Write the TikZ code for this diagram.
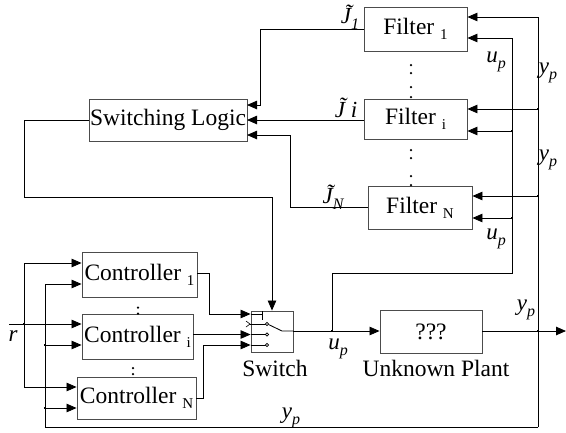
\documentclass[tikz,border=0pt]{standalone}
\usepackage{fontspec}
\setmainfont{Liberation Serif}
\usetikzlibrary{arrows.meta,calc}
\newcommand\sbs[1]{\raisebox{-0.22em}{\fontsize{15}{15}\selectfont #1}}
\newcommand\var[2]{{\itshape #1}\raisebox{-0.25em}{\fontsize{16}{16}\selectfont\itshape #2}}
\begin{document}
\begin{tikzpicture}[x=1pt,y=-1pt,
  blk/.style={draw=black!70,line width=0.9pt,rectangle,inner sep=0pt,font=\fontsize{23.5}{25}\selectfont},
  ln/.style={line width=0.85pt},
  arr/.style={ln,-{Triangle[length=10pt,width=8.5pt]}},
  lab/.style={font=\fontsize{23}{25}\selectfont,inner sep=0pt},
  jd/.style={fill,inner sep=0pt,minimum size=2.8pt},
  dt/.style={fill,circle,inner sep=0pt,minimum size=2.5pt}]
\useasboundingbox (0,0) rectangle (566,432);
% blocks
\node[blk,minimum width=158pt,minimum height=42pt] (SL) at (168,120) {Switching Logic};
\node[blk,minimum width=103pt,minimum height=44pt] (F1) at (415.5,29) {Filter \sbs{1}};
\node[blk,minimum width=103pt,minimum height=40pt] (Fi) at (415.5,119) {Filter \sbs{i}};
\node[blk,minimum width=104pt,minimum height=43pt] (FN) at (420,207.5) {Filter \sbs{N}};
\node[blk,minimum width=115pt,minimum height=45pt] (C1) at (139.5,274.5) {Controller \sbs{1}};
\node[blk,minimum width=111pt,minimum height=45pt] (Ci) at (137.5,336.5) {Controller \sbs{i}};
\node[blk,minimum width=119pt,minimum height=42pt] (CN) at (136.5,398) {Controller \sbs{N}};
\node[blk,minimum width=42pt,minimum height=41pt] (SW) at (272,331.5) {};
\node[blk,minimum width=102pt,minimum height=43pt] (PL) at (431,331.5) {???};
\node[lab,font=\fontsize{23.5}{25}\selectfont] (swl) at (275,368) {Switch};
\node[lab,font=\fontsize{23.5}{25}\selectfont] (pll) at (436,368) {Unknown Plant};
% coordinates
\coordinate (sl1) at (247,105);
\coordinate (sl2) at (247,120);
\coordinate (sl3) at (247,135);
\coordinate (ypTop) at (538,17);
\coordinate (ypBot) at (538,427);
\coordinate (ypL) at (45,427);
\coordinate (upTop) at (512,38);
\coordinate (upJ) at (332,331);
\coordinate (rin) at (9,324);
\coordinate (rJ) at (24,324);
\coordinate (out) at (566,331);
\coordinate (yJ) at (538,331);
% filters to switching logic
\draw[arr] (F1.west) -| (260,105) -- (sl1);
\draw[arr] (Fi.west |- sl2) -- (sl2);
\draw[arr] (FN.west) -| (290,135) -- (sl3);
% switching logic to switch
\draw[arr] (SL.west) -| (24,197) -| (SW.north);
% y_p feedback
\draw[ln] (ypBot) -- (ypTop);
\draw[arr] (ypTop) -- (F1.east |- ypTop);
\draw[arr] (538,109) -- (Fi.east |- 0,109);
\draw[arr] (538,196) -- (FN.east |- 0,196);
\node[jd] (j1) at (538,109) {};
\node[jd] (j2) at (538,196) {};
\draw[ln] (ypBot) -- (ypL) -- (45,284);
\draw[arr] (45,284) -- (C1.west |- 0,284);
\draw[arr] (45,345) -- (Ci.west |- 0,345);
\draw[arr] (45,408) -- (CN.west |- 0,408);
\node[jd] (j3) at (45,345) {};
\node[jd] (j4) at (45,408) {};
% u_p feedback
\draw[ln] (upJ) -- (332,273) -- (512,273) -- (upTop);
\draw[arr] (upTop) -- (F1.east |- upTop);
\draw[arr] (512,131) -- (Fi.east |- 0,131);
\draw[arr] (512,218) -- (FN.east |- 0,218);
\node[jd] (j5) at (512,131) {};
\node[jd] (j6) at (512,218) {};
% reference r
\draw[arr] (rin) -- (Ci.west |- rin);
\draw[ln] (24,263) -- (24,387);
\draw[arr] (24,263) -- (C1.west |- 0,263);
\draw[arr] (24,387) -- (CN.west |- 0,387);
\node[jd] (j7) at (rJ) {};
% controllers to switch
\draw[arr] (C1.east |- 0,273) -- (209,273) -- (209,314) -- (SW.west |- 0,314);
\draw[arr] (Ci.east |- 0,334.5) -- (SW.west |- 0,334.5);
\draw[arr] (CN.east) -- (203,398) -- (203,345) -- (SW.west |- 0,345);
% switch internals
\draw[ln] (251,314) -- (262,314);
\draw[ln] (262,311) -- (262,320);
\draw[line width=0.6pt] (246,321) -- (250,324) -- (246,327);
\draw[line width=0.6pt] (250,324) -- (265.5,324);
\draw[line width=0.6pt] (SW.west |- 0,334.5) -- (265.5,334.5);
\draw[line width=0.6pt] (SW.west |- 0,345) -- (265.5,345);
\foreach \yy in {324,334.5,345} \draw[line width=0.6pt,fill=white] (267,\yy) circle (1.6pt);
\draw[ln] (268.5,324.5) -- (282,331) -- (SW.east |- 0,331);
% main path
\draw[arr] (SW.east |- upJ) -- (PL.west |- upJ);
\node[jd] (j8) at (upJ) {};
\draw[arr] (PL.east |- out) -- (out);
\node[jd] (j9) at (yJ) {};
% dots between blocks
\foreach \yy in {65,73,87,97,150,158,176,185} \node[dt] at (411,\yy) {};
\foreach \p in {(138,307.5),(138,313.5),(133,368),(133,374)} \node[dt] at \p {};
% labels
\node[lab] (lJ1) at (350,17) {{\itshape\~{J}}\raisebox{-0.25em}{\fontsize{16}{16}\selectfont\itshape 1}};
\node[lab] (lJi) at (346,108) {{\itshape\~{J} i}};
\node[lab] (lJN) at (333,197) {\var{\~{J}}{N}};
\node[lab] (lu1) at (496,62) {\var{u}{p}};
\node[lab] (ly1) at (548,73) {\var{y}{p}};
\node[lab] (ly2) at (548,160) {\var{y}{p}};
\node[lab] (lu2) at (496,239) {\var{u}{p}};
\node[lab] (ly3) at (526,310) {\var{y}{p}};
\node[lab] (lu3) at (338,349) {\var{u}{p}};
\node[lab] (ly4) at (291,418) {\var{y}{p}};
\node[lab] (lr) at (13,336) {\itshape r};
\end{tikzpicture}
\end{document}
